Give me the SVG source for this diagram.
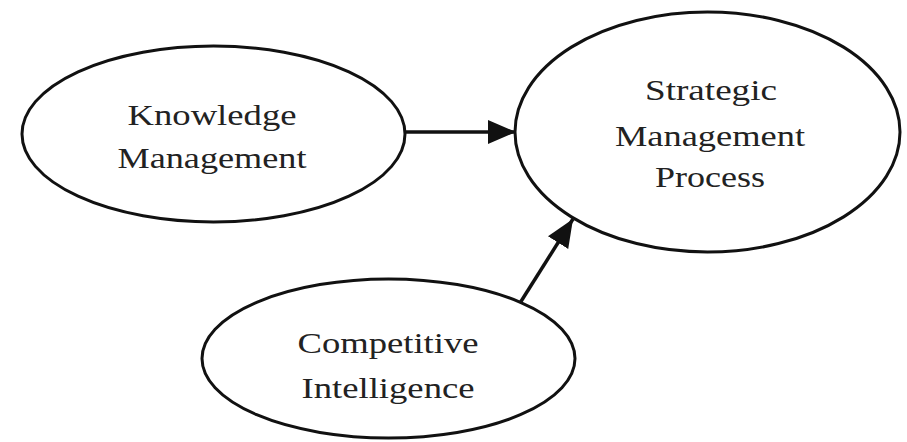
<svg xmlns="http://www.w3.org/2000/svg" width="907" height="442" viewBox="0 0 907 442">
  <style>
    .node ellipse { fill: #ffffff; stroke: #111111; stroke-width: 3; }
    .node text { font-family: "Liberation Serif", "Times New Roman", serif; font-size: 30px; fill: #222222; text-anchor: middle; }
    .edge { stroke: #111111; stroke-width: 3.5; fill: none; marker-end: url(#arrow); }
  </style>
  <defs>
    <marker id="arrow" markerUnits="userSpaceOnUse" markerWidth="30" markerHeight="26" refX="28" refY="12" orient="auto">
      <path d="M0,0 L28,12 L0,24 Z" fill="#111111"/>
    </marker>
  </defs>
  <rect width="907" height="442" fill="#ffffff"/>

  <g id="knowledge-management" class="node">
    <ellipse cx="213.5" cy="134" rx="191.5" ry="88"/>
    <text x="212" y="125" textLength="169" lengthAdjust="spacingAndGlyphs">Knowledge</text>
    <text x="212" y="168" textLength="189" lengthAdjust="spacingAndGlyphs">Management</text>
  </g>

  <g id="strategic-management-process" class="node">
    <ellipse cx="707.5" cy="132" rx="192.5" ry="120"/>
    <text x="711" y="100" textLength="132" lengthAdjust="spacingAndGlyphs">Strategic</text>
    <text x="710" y="146" textLength="190" lengthAdjust="spacingAndGlyphs">Management</text>
    <text x="710" y="187" textLength="110" lengthAdjust="spacingAndGlyphs">Process</text>
  </g>

  <g id="competitive-intelligence" class="node">
    <ellipse cx="388.5" cy="358.5" rx="186.5" ry="79.5"/>
    <text x="388" y="353" textLength="181" lengthAdjust="spacingAndGlyphs">Competitive</text>
    <text x="388" y="398" textLength="173" lengthAdjust="spacingAndGlyphs">Intelligence</text>
  </g>

  <g id="connectors">
    <line class="edge" x1="405" y1="132" x2="516" y2="132"/>
    <line class="edge" x1="520" y1="303" x2="573" y2="219"/>
  </g>
</svg>
